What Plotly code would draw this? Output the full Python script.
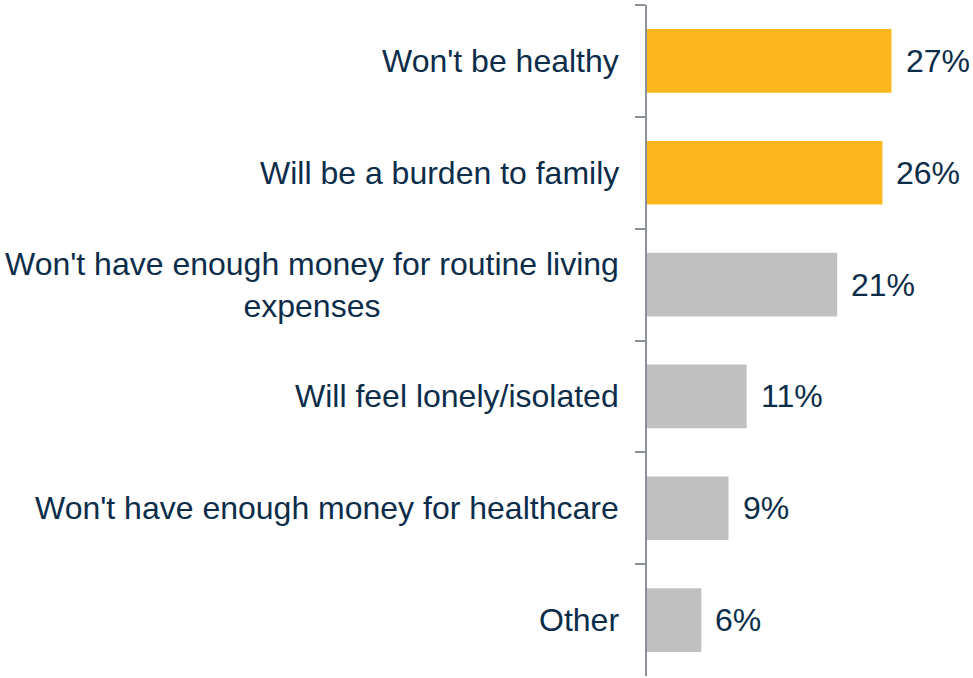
import plotly.graph_objects as go

# Survey responses: biggest concern about living to 100
categories = [
    "Won't be healthy",
    "Will be a burden to family",
    "Won't have enough money for routine living<br>expenses",
    "Will feel lonely/isolated",
    "Won't have enough money for healthcare",
    "Other",
]
values = [27, 26, 21, 11, 9, 6]
highlight = [True, True, False, False, False, False]

GOLD = "#FDB71E"
GREY = "#C0C0C0"
NAVY = "#0C2D4A"
AXIS = "#8C9099"
FONT = "Liberation Sans, Arial, sans-serif"

colors = [GOLD if h else GREY for h in highlight]

fig = go.Figure(
    go.Bar(
        x=values,
        y=categories,
        orientation="h",
        marker=dict(color=colors, line=dict(width=0)),
        hoverinfo="skip",
    )
)

for cat, v in zip(categories, values):
    # value label to the right of each bar
    fig.add_annotation(
        x=v, y=cat, text=f"{v}%", showarrow=False,
        xanchor="left", yanchor="middle", xshift=12,
        font=dict(family=FONT, size=32, color=NAVY),
    )
    # category label, centred lines, right-aligned against the axis
    fig.add_annotation(
        x=0, xref="paper", y=cat, text=cat, showarrow=False,
        xanchor="right", yanchor="middle", xshift=-26, align="center",
        font=dict(family=FONT, size=32, color=NAVY),
    )

fig.update_layout(
    width=973, height=678,
    margin=dict(l=647, r=0, t=5, b=2),
    paper_bgcolor="white", plot_bgcolor="white",
    bargap=0.43,
    showlegend=False,
    font=dict(family=FONT, size=32, color=NAVY),
)
fig.update_xaxes(range=[0, 36], visible=False)
fig.update_yaxes(
    categoryorder="array", categoryarray=categories,
    autorange="reversed",
    showline=True, linecolor=AXIS, linewidth=2,
    ticks="outside", tickson="boundaries", ticklen=10, tickcolor=AXIS, tickwidth=2,
    showgrid=False, zeroline=False,
    showticklabels=False,
)

fig.write_html("out.html")
